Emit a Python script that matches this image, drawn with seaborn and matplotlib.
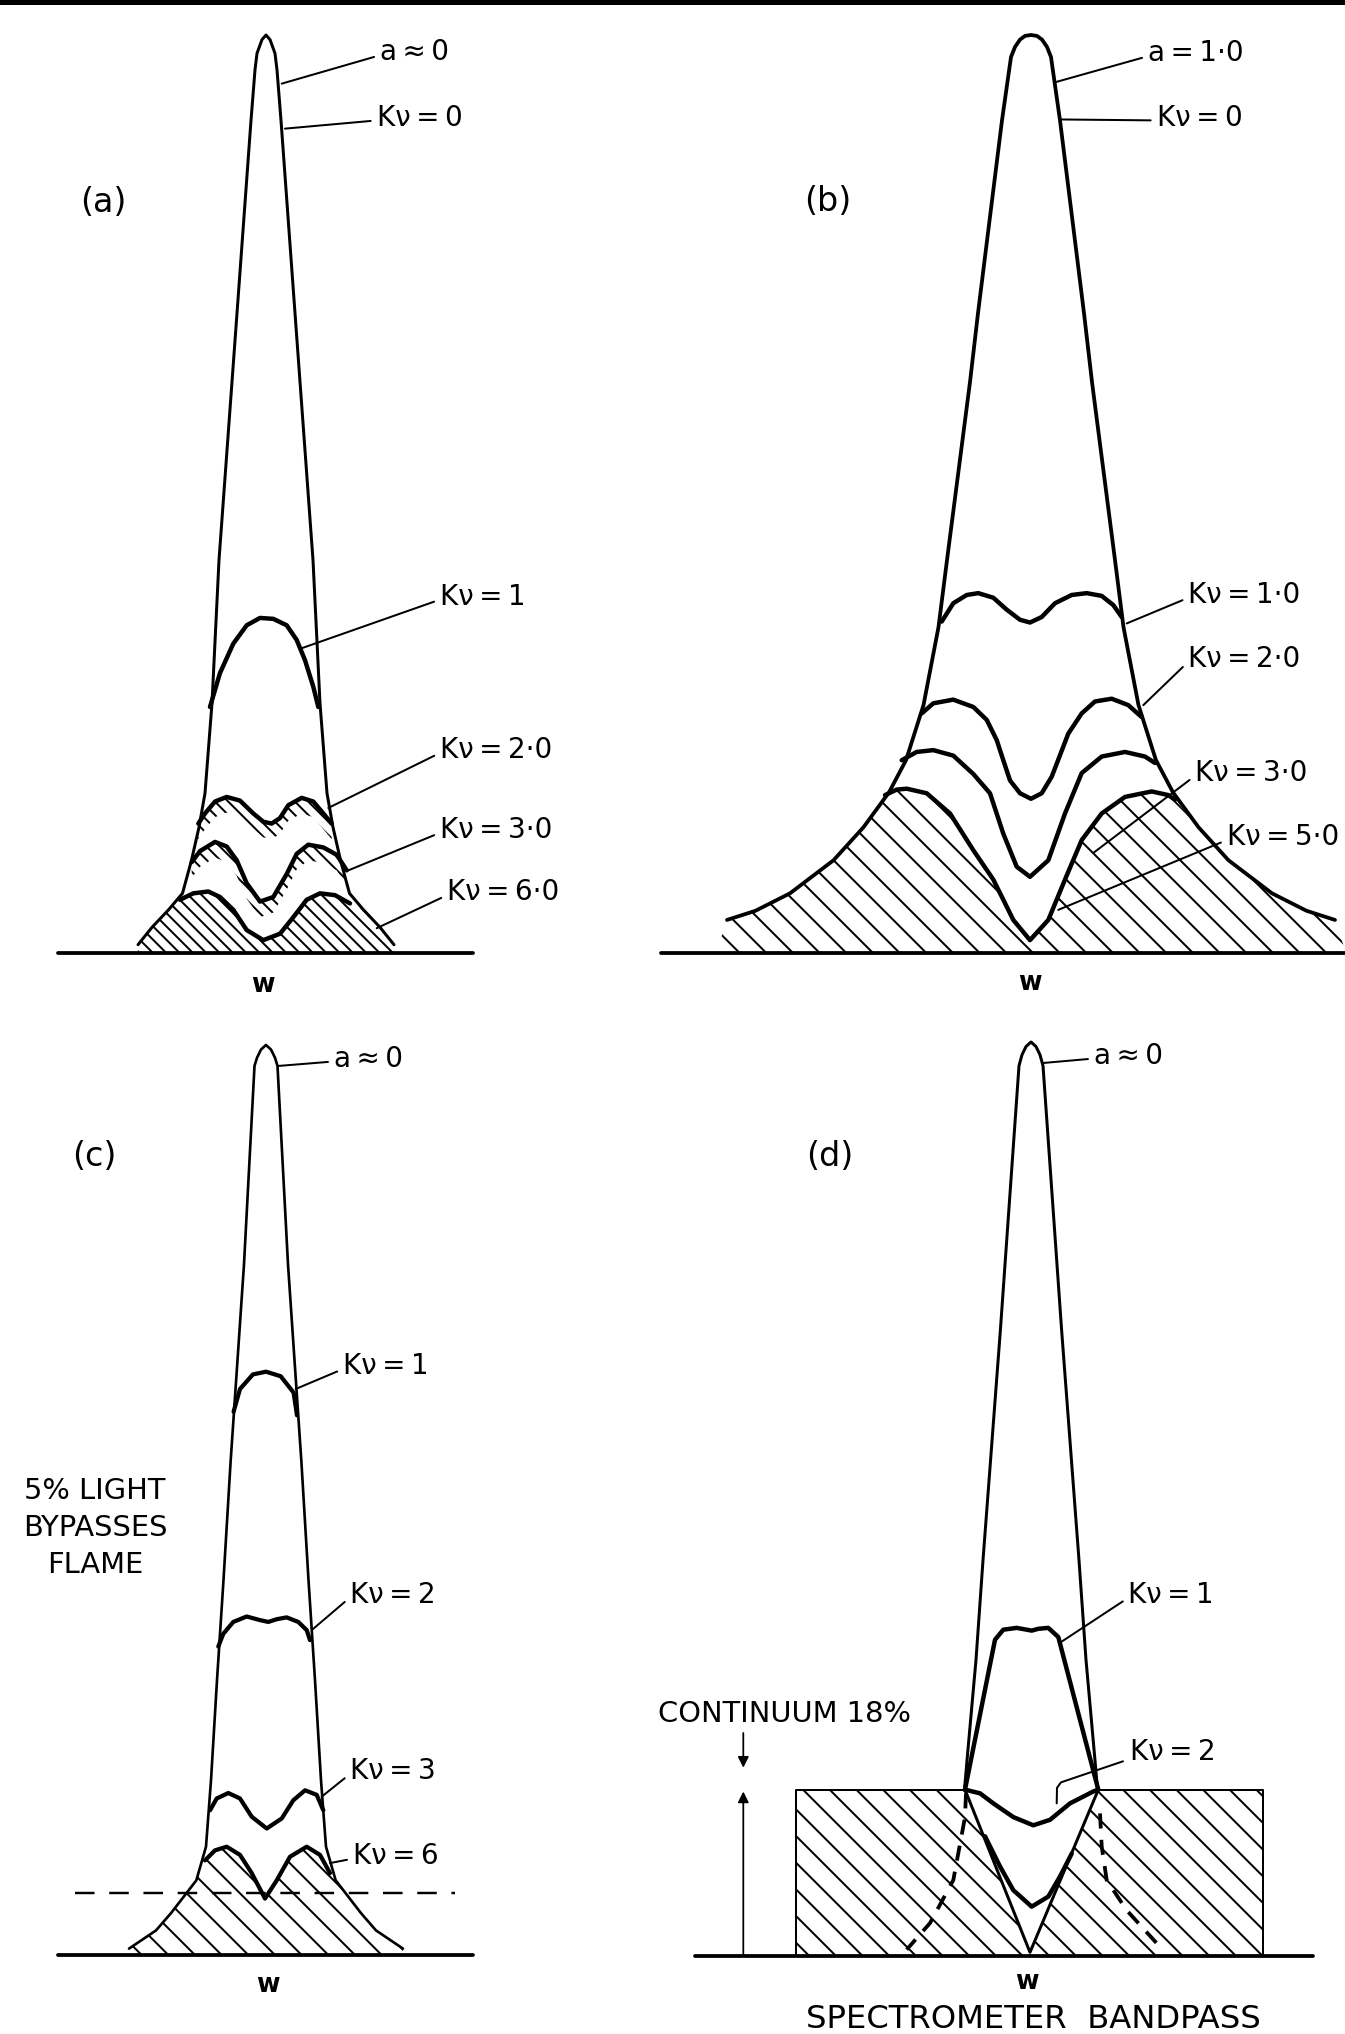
import numpy as np
import matplotlib
matplotlib.use("Agg")
import matplotlib.pyplot as plt
from matplotlib.lines import Line2D
import seaborn as sns

# x = frequency offset from line centre w (arb. units), y = intensity in % of the a~0 peak

# ---- (a) a ~ 0 ----
a_outer_x = [0.0, 0.04, 0.09, 0.11, 0.15, 0.29, 0.47, 0.54, 0.61, 0.67, 0.745, 0.835, 0.975, 1.14, 1.28]
a_outer_y = [100.0, 99.5, 98.0, 96.2, 90.7, 69.7, 42.8, 27.2, 17.4, 13.7, 10.1, 6.5, 4.7, 2.8, 0.9]
a_kv1_x = [-0.56, -0.46, -0.327, -0.193, -0.06, 0.073, 0.207, 0.307, 0.39, 0.473, 0.523]
a_kv1_y = [26.8, 30.5, 33.7, 35.7, 36.5, 36.4, 35.7, 34.1, 31.9, 29.0, 26.8]
a_kv2_x = [-0.677, -0.61, -0.51, -0.393, -0.26, -0.127, -0.027, 0.057, 0.14, 0.223, 0.357, 0.473, 0.573, 0.657]
a_kv2_y = [14.1, 15.2, 16.5, 17.0, 16.6, 15.2, 14.3, 14.1, 14.7, 16.1, 16.9, 16.5, 15.2, 14.1]
a_kv3_x = [-0.743, -0.66, -0.51, -0.393, -0.293, -0.193, -0.06, 0.073, 0.207, 0.307, 0.423, 0.573, 0.707, 0.807]
a_kv3_y = [9.9, 11.1, 12.1, 11.6, 10.1, 7.6, 5.6, 6.1, 8.6, 10.8, 11.8, 11.5, 10.7, 9.0]
a_kv6_x = [-0.86, -0.727, -0.577, -0.46, -0.327, -0.193, -0.027, 0.14, 0.273, 0.407, 0.54, 0.69, 0.84]
a_kv6_y = [5.8, 6.5, 6.7, 6.1, 4.7, 2.5, 1.4, 2.1, 3.9, 5.8, 6.5, 6.3, 5.4]
a_labels = ["a ≈ 0", "Kν = 0", "Kν = 1", "Kν = 2·0", "Kν = 3·0", "Kν = 6·0"]

# ---- (b) a = 1.0 ----
b_outer_x = [0.0, 0.06, 0.11, 0.16, 0.20, 0.29, 0.53, 0.61, 0.84, 0.925, 1.075, 1.25, 1.42, 1.675, 1.975, 2.41, 2.755, 3.04]
b_outer_y = [100.0, 99.9, 99.5, 98.7, 97.6, 90.7, 69.7, 62.2, 42.8, 35.5, 27.0, 21.0, 17.5, 13.7, 10.1, 6.5, 4.6, 3.6]
b_kv1_x = [-0.893, -0.777, -0.643, -0.527, -0.377, -0.243, -0.11, -0.01, 0.107, 0.24, 0.407, 0.557, 0.707, 0.823, 0.907]
b_kv1_y = [36.1, 38.1, 39.0, 39.2, 38.7, 37.4, 36.3, 36.0, 36.6, 38.1, 39.0, 39.2, 38.9, 37.9, 36.6]
b_kv2_x = [-1.093, -0.977, -0.777, -0.577, -0.443, -0.343, -0.277, -0.21, -0.11, 0.0, 0.107, 0.207, 0.373, 0.507, 0.64, 0.807, 0.973, 1.107]
b_kv2_y = [26.1, 27.2, 27.6, 26.8, 25.4, 23.2, 21.0, 18.8, 17.4, 16.8, 17.4, 19.2, 23.9, 26.1, 27.4, 27.7, 27.0, 25.7]
b_kv3_x = [-1.293, -1.143, -0.977, -0.777, -0.577, -0.41, -0.277, -0.143, -0.01, 0.173, 0.34, 0.507, 0.707, 0.94, 1.14, 1.24]
b_kv3_y = [21.0, 21.9, 22.1, 21.5, 19.5, 17.4, 13.0, 9.4, 8.3, 10.1, 15.2, 19.6, 21.4, 21.9, 21.4, 20.7]
b_kv5_x = [-1.46, -1.343, -1.243, -1.043, -0.81, -0.577, -0.377, -0.177, -0.01, 0.173, 0.34, 0.507, 0.707, 0.94, 1.207, 1.373, 1.44]
b_kv5_y = [17.2, 17.8, 17.9, 17.4, 15.2, 11.2, 8.0, 3.6, 1.4, 3.6, 8.0, 12.3, 15.2, 17.0, 17.6, 17.2, 16.7]
b_labels = ["a = 1·0", "Kν = 0", "Kν = 1·0", "Kν = 2·0", "Kν = 3·0", "Kν = 5·0"]

# ---- (c) a ~ 0, 5% light bypasses flame ----
c_outer_x = [0.0, 0.05, 0.09, 0.115, 0.22, 0.354, 0.425, 0.49, 0.55, 0.60, 0.697, 0.95, 1.10, 1.37]
c_outer_y = [100.0, 99.5, 98.6, 97.7, 75.9, 54.2, 41.2, 30.2, 19.2, 11.9, 8.2, 4.6, 2.7, 0.7]
c_kv1_x = [-0.324, -0.26, -0.131, 0.0, 0.147, 0.276, 0.31]
c_kv1_y = [59.7, 62.2, 63.8, 64.1, 63.6, 61.8, 59.3]
c_kv2_x = [-0.477, -0.427, -0.327, -0.193, -0.06, 0.023, 0.107, 0.207, 0.323, 0.407, 0.44]
c_kv2_y = [33.9, 35.3, 36.6, 37.2, 36.8, 36.6, 36.9, 37.1, 36.6, 35.7, 34.6]
c_kv3_x = [-0.56, -0.493, -0.377, -0.26, -0.143, 0.007, 0.157, 0.273, 0.39, 0.507, 0.573]
c_kv3_y = [15.9, 17.2, 17.8, 17.2, 15.2, 13.9, 15.0, 17.0, 18.1, 17.6, 15.9]
c_kv6_x = [-0.61, -0.51, -0.393, -0.26, -0.143, -0.01, 0.107, 0.24, 0.407, 0.54, 0.64]
c_kv6_y = [10.4, 11.5, 11.9, 11.0, 9.0, 6.2, 8.2, 10.8, 11.9, 11.0, 9.0]
c_bypass_level = 6.8
c_bypass_span = [-1.91, 1.89]
c_labels = ["a ≈ 0", "Kν = 1", "Kν = 2", "Kν = 3", "Kν = 6"]

# ---- (d) a ~ 0 with 18% continuum over the spectrometer bandpass ----
d_outer_x = [0.0, 0.05, 0.09, 0.12, 0.306, 0.48, 0.55, 0.64, 0.665]
d_outer_y = [100.0, 99.5, 98.6, 97.4, 68.5, 43.3, 32.4, 21.4, 18.2]
d_kv1_x = [-0.66, -0.36, -0.277, -0.143, -0.043, 0.007, 0.073, 0.173, 0.273, 0.673]
d_kv1_y = [18.2, 34.6, 35.7, 35.9, 35.7, 35.6, 35.8, 35.9, 34.9, 18.2]
d_kv2_x = [-0.66, -0.51, -0.377, -0.177, 0.023, 0.19, 0.39, 0.623, 0.673]
d_kv2_y = [18.2, 17.8, 16.7, 15.2, 14.3, 14.9, 16.7, 18.0, 18.2]
d_deep_x = [-0.46, -0.31, -0.177, 0.007, 0.173, 0.29, 0.407]
d_deep_y = [13.1, 9.8, 7.2, 5.4, 6.5, 8.7, 11.2]
d_v_x = [-0.66, -0.01, 0.673]
d_v_y = [18.2, 0.4, 18.2]
d_wing_l_x = [-0.65, -0.66, -0.777, -1.01, -1.243]
d_wing_l_y = [17.8, 15.2, 8.3, 3.6, 0.7]
d_wing_r_x = [0.69, 0.707, 0.757, 0.957, 1.29]
d_wing_r_y = [15.6, 12.0, 8.3, 5.0, 1.0]
d_band = [-2.35, 2.32]
d_continuum = 18.2
d_labels = ["a ≈ 0", "Kν = 1", "Kν = 2"]

W, H = 1345, 2034
DPI = 80

sns.set_theme(style="white")
plt.rcParams["font.family"] = ["DejaVu Sans"]
plt.rcParams["text.color"] = "black"
plt.rcParams["hatch.linewidth"] = 1.8
plt.rcParams["hatch.color"] = "black"

fig = plt.figure(figsize=(W / DPI, H / DPI), dpi=DPI)
fig.patch.set_facecolor("white")


def panel(box, center, base, height):
    # box in pixels (left, top, right, bottom); data -> pixel mapping of the drawing
    l, t, r, b = box
    ax = fig.add_axes([l / W, 1 - b / H, (r - l) / W, (b - t) / H])
    ax.set_xlim((l - center) / 100, (r - center) / 100)
    ax.set_ylim((base - b) / height * 100, (base - t) / height * 100)
    ax.set_axis_off()
    return ax


def mirror(hx, hy):
    hx, hy = np.asarray(hx, float), np.asarray(hy, float)
    return np.concatenate([-hx[::-1], hx[1:]]), np.concatenate([hy[::-1], hy[1:]])


def curve(ax, x, y, lw, **kw):
    sns.lineplot(x=np.asarray(x, float), y=np.asarray(y, float), ax=ax, sort=False,
                 estimator=None, color="black", linewidth=lw, legend=False, **kw)


def hatch_under(ax, hx, hy, cx, cy, pattern, reach=0.0):
    hx, hy = np.asarray(hx, float), np.asarray(hy, float)
    left, right = hy < cy[0], hy < cy[-1]
    px = np.concatenate([[-hx[left][-1] - reach], -hx[left][::-1], cx, hx[right], [hx[right][-1] + reach]])
    py = np.concatenate([[0.0], hy[left][::-1], cy, hy[right], [0.0]])
    ax.fill(px, py, facecolor="none", edgecolor="black", hatch=pattern, linewidth=0, zorder=1)


def hatch_band(ax, x, y, depth, pattern):
    x, y = np.asarray(x, float), np.asarray(y, float)
    ax.fill(np.concatenate([x, x[::-1]]), np.concatenate([y, (y - depth)[::-1]]),
            facecolor="none", edgecolor="black", hatch=pattern, linewidth=0, zorder=1)


def tag(ax, text, xy, xytext, rel=(0, 0.4)):
    ax.annotate(text.replace(" ", "\u2009"), xy=xy, xytext=xytext, ha="left", va="center",
                fontsize=25, arrowprops=dict(arrowstyle="-", color="black", lw=1.8,
                                             shrinkA=3, shrinkB=0, relpos=rel))


def frame(ax, span, w_pos, letter, letter_pos):
    curve(ax, span, [0, 0], 3.4, clip_on=False)
    ax.text(*w_pos, "w", ha="center", va="center", fontsize=23, fontweight="bold")
    ax.text(*letter_pos, letter, ha="center", va="center", fontsize=30)


# (a)
ax = panel((0, 0, 672, 1010), 266, 953, 918)
hatch_under(ax, a_outer_x, a_outer_y, a_kv6_x, a_kv6_y, "\\\\")
hatch_band(ax, a_kv2_x, a_kv2_y, 1.7, "\\\\")
hatch_band(ax, a_kv3_x, a_kv3_y, 1.7, "\\\\")
curve(ax, *mirror(a_outer_x, a_outer_y), 2.7)
for cx, cy in [(a_kv1_x, a_kv1_y), (a_kv2_x, a_kv2_y), (a_kv3_x, a_kv3_y), (a_kv6_x, a_kv6_y)]:
    curve(ax, cx, cy, 4.0)
frame(ax, [-2.08, 2.07], (-0.03, -3.5), "(a)", (-1.63, 81.7))
a_leaders = [((0.157, 94.7), (1.14, 98.1)), ((0.19, 89.8), (1.107, 91.0)), ((0.357, 33.2), (1.74, 38.8)),
             ((0.623, 15.8), (1.74, 22.1)), ((0.823, 9.0), (1.74, 13.4)), ((1.107, 2.7), (1.81, 6.6))]
for text, (xy, xyt) in zip(a_labels, a_leaders):
    tag(ax, text, xy, xyt)

# (b)
ax = panel((672, 0, 1345, 1010), 1031, 953, 918)
hatch_under(ax, b_outer_x, b_outer_y, b_kv5_x, b_kv5_y, "\\", reach=0.11)
curve(ax, *mirror(b_outer_x, b_outer_y), 3.4)
for cx, cy in [(b_kv1_x, b_kv1_y), (b_kv2_x, b_kv2_y), (b_kv3_x, b_kv3_y), (b_kv5_x, b_kv5_y)]:
    curve(ax, cx, cy, 4.0)
frame(ax, [-3.70, 3.14], (-0.01, -3.3), "(b)", (-2.03, 81.9))
b_leaders = [((0.257, 94.9), (1.17, 98.0)), ((0.29, 90.8), (1.257, 91.0)), ((0.957, 35.9), (1.573, 39.0)),
             ((1.123, 27.0), (1.57, 32.0)), ((0.623, 10.9), (1.64, 19.6)), ((0.273, 4.7), (1.957, 12.6))]
for text, (xy, xyt) in zip(b_labels, b_leaders):
    tag(ax, text, xy, xyt)

# (c)
ax = panel((0, 1010, 672, 2034), 266, 1955, 910)
hatch_under(ax, c_outer_x, c_outer_y, c_kv6_x, c_kv6_y, "\\")
curve(ax, *mirror(c_outer_x, c_outer_y), 2.4)
for cx, cy in [(c_kv1_x, c_kv1_y), (c_kv2_x, c_kv2_y), (c_kv3_x, c_kv3_y), (c_kv6_x, c_kv6_y)]:
    curve(ax, cx, cy, 3.8)
curve(ax, c_bypass_span, [c_bypass_level] * 2, 2.2, linestyle=(0, (8, 6)))
frame(ax, [-2.08, 2.07], (0.02, -3.3), "(c)", (-1.72, 87.8))
ax.text(-1.71, 46.9, "5% LIGHT\nBYPASSES\nFLAME", ha="center", va="center",
        multialignment="center", fontsize=26, linespacing=1.4)
c_leaders = [((0.126, 97.7), (0.68, 98.5)), ((0.297, 62.2), (0.77, 64.7)), ((0.457, 35.7), (0.84, 39.6)),
             ((0.557, 17.4), (0.84, 20.2)), ((0.64, 10.1), (0.87, 10.9))]
for text, (xy, xyt) in zip(c_labels, c_leaders):
    tag(ax, text, xy, xyt)

# (d)
ax = panel((672, 1010, 1345, 2034), 1031, 1956, 914)
hx = [d_band[0], d_band[0], d_v_x[0], d_v_x[1], d_v_x[2], d_band[1], d_band[1]]
hy = [0, d_continuum, d_continuum, d_v_y[1], d_continuum, d_continuum, 0]
ax.fill(hx, hy, facecolor="none", edgecolor="black", hatch="\\", linewidth=0, zorder=1)
curve(ax, [d_band[0], d_band[0], d_v_x[0]], [0, d_continuum, d_continuum], 1.8)
curve(ax, [d_v_x[2], d_band[1], d_band[1]], [d_continuum, d_continuum, 0], 1.8)
curve(ax, *mirror(d_outer_x, d_outer_y), 2.7)
curve(ax, d_v_x, d_v_y, 2.7)
curve(ax, d_kv1_x, d_kv1_y, 4.0)
curve(ax, d_kv2_x, d_kv2_y, 4.0)
curve(ax, d_deep_x, d_deep_y, 4.0)
curve(ax, d_wing_l_x, d_wing_l_y, 3.4, linestyle=(0, (4, 3)))
curve(ax, d_wing_r_x, d_wing_r_y, 3.4, linestyle=(0, (4, 3)))
frame(ax, [-3.36, 2.82], (-0.04, -2.8), "(d)", (-2.01, 87.5))
tag(ax, d_labels[0], (0.118, 97.7), (0.63, 98.5))
tag(ax, d_labels[1], (0.307, 34.4), (0.973, 39.5))
curve(ax, [0.257, 0.26, 0.30, 0.92], [16.7, 18.4, 19.0, 21.3], 1.8)
ax.text(0.99, 22.3, d_labels[2].replace(" ", "\u2009"), ha="left", va="center", fontsize=25)
arrow = dict(arrowstyle="-|>", color="black", lw=1.6, mutation_scale=20, shrinkA=0, shrinkB=0)
ax.annotate("", xy=(-2.877, 20.6), xytext=(-2.877, 24.4), arrowprops=arrow)
ax.annotate("", xy=(-2.877, 18.0), xytext=(-2.877, 0.0), arrowprops=arrow)
ax.text(-3.73, 26.5, "CONTINUUM 18%", ha="left", va="center", fontsize=26)
ax.text(0.02, -6.9, "SPECTROMETER  BANDPASS", ha="center", va="center", fontsize=29)

fig.add_artist(Line2D([0, 1], [1, 1], transform=fig.transFigure, color="black", lw=9))

fig.savefig("out.png", dpi=DPI, facecolor="white")
